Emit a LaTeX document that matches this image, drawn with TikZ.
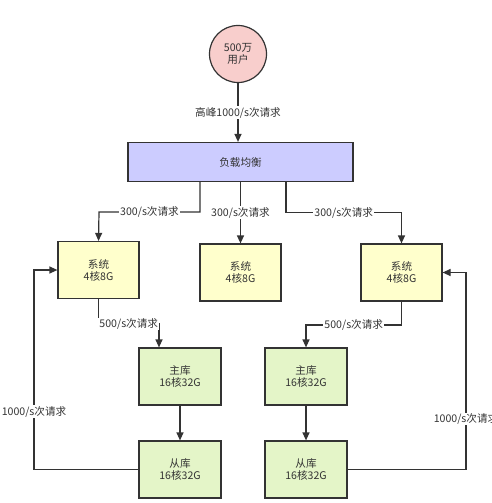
\documentclass[tikz,border=0pt]{standalone}
\usepackage{fontspec}
\setmainfont{Noto Sans CJK SC}
\usetikzlibrary{arrows.meta}
\definecolor{ln}{HTML}{333333}
\definecolor{pinkf}{HTML}{F8CECC}
\definecolor{lavf}{HTML}{CCCCFF}
\definecolor{yelf}{HTML}{FFFFCC}
\definecolor{grnf}{HTML}{E4F5C8}
\begin{document}
\begin{tikzpicture}[x=1pt,y=-1pt,
  every node/.style={text=ln,font=\fontsize{10.6}{12}\selectfont,align=center},
  box/.style={draw=ln,line width=1.2pt,inner sep=0pt},
  sysbox/.style={box,fill=yelf,minimum width=81pt,minimum height=57pt},
  dbbox/.style={box,fill=grnf,minimum width=82pt,minimum height=57pt},
  conn/.style={draw=ln,line width=1.2pt,-{Triangle[length=8pt,width=7pt]}},
  lbl/.style={fill=white,inner sep=1pt}]
\clip (0,0) rectangle (492,503);
\fill[white] (0,0) rectangle (492,503);
\node[box,circle,fill=pinkf,minimum size=57pt] (user) at (238,54) {500万\\用户};
\node[box,fill=lavf,minimum width=225pt,minimum height=39pt] (lb) at (240.5,162) {负载均衡};
\node[sysbox] (s1) at (98.5,270) {系统\\4核8G};
\node[sysbox] (s2) at (240.5,272.5) {系统\\4核8G};
\node[sysbox] (s3) at (401.5,272.5) {系统\\4核8G};
\node[dbbox] (m1) at (180,376.5) {主库\\16核32G};
\node[dbbox] (m2) at (306,376.5) {主库\\16核32G};
\node[dbbox] (r1) at (180,469.5) {从库\\16核32G};
\node[dbbox] (r2) at (306,469.5) {从库\\16核32G};
\coordinate (lbL) at (200,181);
\coordinate (lbR) at (286,181);
\draw[conn] (user.south) -- node[lbl,pos=0.5] {高峰1000/s次请求} (user.south |- lb.north);
\draw[conn] (lbL) -- (200,212) -- node[lbl] {300/s次请求} (99,212) -- (s1.north);
\draw[conn] (lb.south -| s2) -- node[lbl,pos=0.5] {300/s次请求} (s2.north);
\draw[conn] (lbR) -- (286,212.5) -- node[lbl] {300/s次请求} (401.5,212.5) -- (s3.north);
\draw[conn] (s1.south) -- (98.5,324) -- node[lbl,pos=0.5] {500/s次请求} (159,324) -- (m1.north -| 159,0);
\draw[conn] (s3.south) -- (401.5,325) -- node[lbl,pos=0.5] {500/s次请求} (306,325) -- (m2.north);
\draw[conn] (m1) -- (r1);
\draw[conn] (m2) -- (r2);
\draw[conn] (r1.west) -- (34,469.5) -- node[lbl,pos=0.29] {1000/s次请求} (34,270) -- (s1.west);
\draw[conn] (r2.east) -- (466,469.5) -- node[lbl,pos=0.256] {1000/s次请求} (466,272.5) -- (s3.east);
\end{tikzpicture}
\end{document}
